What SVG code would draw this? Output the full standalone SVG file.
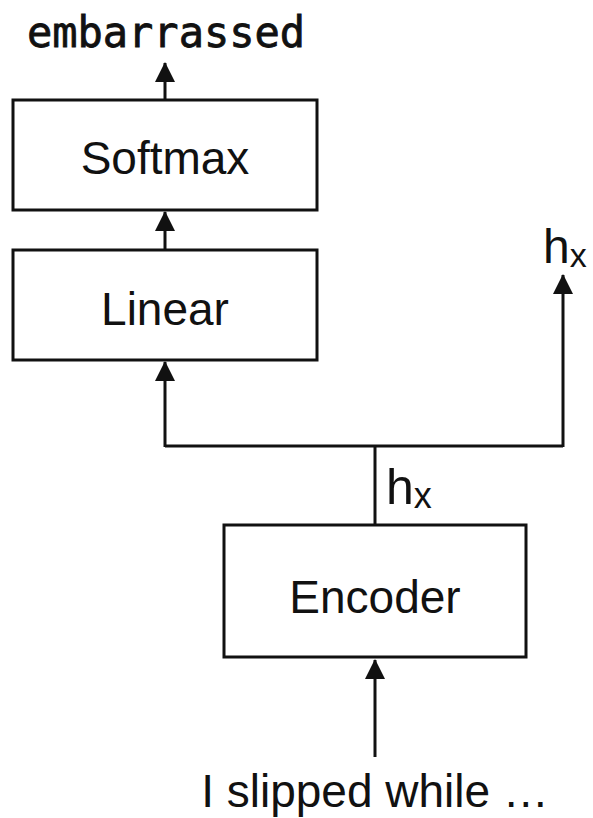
<svg xmlns="http://www.w3.org/2000/svg" width="593" height="818" viewBox="0 0 593 818">
  <style>
    .box { fill: #ffffff; stroke: #111111; stroke-width: 3; }
    .lbl { font-family: "Liberation Sans", Arial, sans-serif; font-size: 46px; fill: #111111; text-anchor: middle; }
    .mono { font-family: "DejaVu Sans Mono", "Liberation Mono", monospace; font-size: 42px; fill: #111111; stroke: #111111; stroke-width: 0.8; }
    .wire { fill: none; stroke: #111111; stroke-width: 3; }
    .hx { font-family: "Liberation Sans", Arial, sans-serif; fill: #111111; }
  </style>
  <defs>
    <marker id="head" markerUnits="userSpaceOnUse" markerWidth="20" markerHeight="20" viewBox="0 0 20 20" refX="19" refY="10" orient="auto">
      <path d="M0,0 L20,10 L0,20 z" fill="#111111"/>
    </marker>
  </defs>

  <rect width="593" height="818" fill="#ffffff"/>

  <!-- connectors -->
  <g id="connectors">
    <line class="wire" x1="165" y1="100" x2="165" y2="63" marker-end="url(#head)"/>
    <line class="wire" x1="165" y1="250" x2="165" y2="212" marker-end="url(#head)"/>
    <line class="wire" x1="375" y1="525" x2="375" y2="446"/>
    <polyline class="wire" points="165,446 563,446"/>
    <line class="wire" x1="165" y1="447" x2="165" y2="362" marker-end="url(#head)"/>
    <line class="wire" x1="563" y1="447" x2="563" y2="275" marker-end="url(#head)"/>
    <line class="wire" x1="375" y1="757" x2="375" y2="660" marker-end="url(#head)"/>
  </g>

  <!-- output word -->
  <g id="output">
    <text class="mono" x="166" y="47" text-anchor="middle">embarrassed</text>
  </g>

  <g id="softmax">
    <rect class="box" x="13" y="100" width="304" height="110"/>
    <text class="lbl" x="165" y="174">Softmax</text>
  </g>

  <g id="linear">
    <rect class="box" x="13" y="250" width="304" height="110"/>
    <text class="lbl" x="165" y="325">Linear</text>
  </g>

  <g id="encoder">
    <rect class="box" x="224" y="525" width="302" height="132"/>
    <text class="lbl" x="375" y="613">Encoder</text>
  </g>

  <!-- hidden state labels -->
  <g id="hx-top">
    <text class="hx" x="543" y="263" font-size="48">h<tspan font-size="34" dy="4">x</tspan></text>
  </g>
  <g id="hx-mid">
    <text class="hx" x="386" y="504" font-size="50">h<tspan font-size="36" dy="4">x</tspan></text>
  </g>

  <!-- input sentence -->
  <g id="input">
    <text class="lbl" x="375" y="807">I slipped while …</text>
  </g>
</svg>
